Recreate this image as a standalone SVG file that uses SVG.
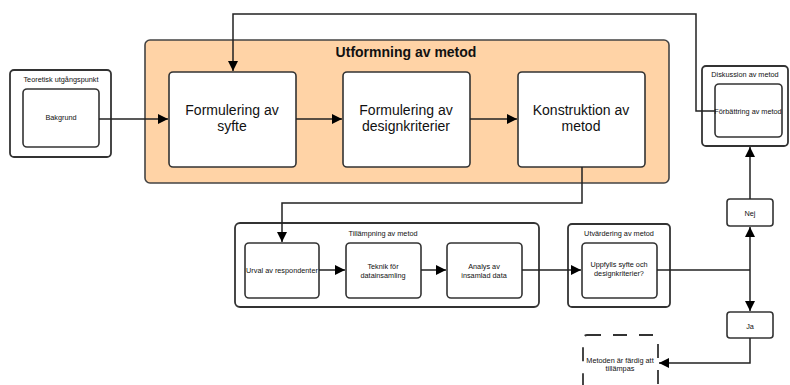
<svg xmlns="http://www.w3.org/2000/svg" width="790" height="385" viewBox="0 0 790 385">
<defs>
<marker id="ah" viewBox="0 0 10 10" refX="10" refY="5" markerWidth="10" markerHeight="10" markerUnits="userSpaceOnUse" orient="auto">
<path d="M0,0 L10,5 L0,10 z" fill="#000"/>
</marker>
<style>
.grp{fill:#fff;stroke:#333;stroke-width:1.8}
.box{fill:#fff;stroke:#333;stroke-width:1.6}
.dash{fill:#fff;stroke:#333;stroke-width:1.8;stroke-dasharray:14 12}
.big{font-family:"Liberation Sans",Arial,sans-serif;font-size:14px;fill:#111;text-anchor:middle}
.ttl{font-family:"Liberation Sans",Arial,sans-serif;font-size:14px;font-weight:bold;fill:#111;text-anchor:middle}
.sm{font-family:"Liberation Sans",Arial,sans-serif;font-size:7.3px;fill:#111;text-anchor:middle}
.ln{fill:none;stroke:#222;stroke-width:1.5}
.la{fill:none;stroke:#222;stroke-width:1.5;marker-end:url(#ah)}
</style>
</defs>
<g id="utformning">
<rect x="145" y="40" width="524" height="143" rx="5" fill="#ffd3a6" stroke="#444" stroke-width="1.6"/>
<text class="ttl" x="406" y="57">Utformning av metod</text>
</g>
<g id="syfte">
<rect class="box" x="169" y="72" width="127" height="95" rx="4"/>
<text class="big" x="232" y="114.5">Formulering av</text>
<text class="big" x="232" y="130.5">syfte</text>
</g>
<g id="designkriterier">
<rect class="box" x="343" y="72" width="127" height="95" rx="4"/>
<text class="big" x="406" y="114.5">Formulering av</text>
<text class="big" x="406" y="130.5">designkriterier</text>
</g>
<g id="konstruktion">
<rect class="box" x="518" y="72" width="127" height="95" rx="4"/>
<text class="big" x="581" y="114.5">Konstruktion av</text>
<text class="big" x="581" y="130.5">metod</text>
</g>
<g id="teoretisk">
<rect class="grp" x="10" y="70" width="101" height="87" rx="4"/>
<text class="sm" x="61" y="81.5">Teoretisk utgångspunkt</text>
</g>
<g id="bakgrund">
<rect class="box" x="23" y="89" width="76" height="58" rx="4"/>
<text class="sm" x="61" y="120">Bakgrund</text>
</g>
<g id="diskussion">
<rect class="grp" x="702" y="66" width="86" height="80" rx="4"/>
<text class="sm" x="745" y="76.5">Diskussion av metod</text>
</g>
<g id="forbattring">
<rect class="box" x="715" y="84" width="67" height="53" rx="4"/>
<text class="sm" x="748" y="113.5">Förbättring av metod</text>
</g>
<g id="tillampning">
<rect class="grp" x="235" y="223" width="304" height="84" rx="5"/>
<text class="sm" x="383" y="235.5">Tillämpning av metod</text>
</g>
<g id="urval">
<rect class="box" x="245" y="243" width="74" height="55" rx="4"/>
<text class="sm" x="282" y="272.5">Urval av respondenter</text>
</g>
<g id="teknik">
<rect class="box" x="346" y="243" width="75" height="55" rx="4"/>
<text class="sm" x="383" y="269">Teknik för</text>
<text class="sm" x="383" y="278">datainsamling</text>
</g>
<g id="analys">
<rect class="box" x="447" y="243" width="75" height="55" rx="4"/>
<text class="sm" x="484" y="269">Analys av</text>
<text class="sm" x="484" y="278">insamlad data</text>
</g>
<g id="utvardering">
<rect class="grp" x="568" y="224" width="102" height="83" rx="4"/>
<text class="sm" x="619" y="235.5">Utvärdering av metod</text>
</g>
<g id="uppfylls">
<rect class="box" x="582" y="243" width="75" height="55" rx="4"/>
<text class="sm" x="619" y="267">Uppfylls syfte och</text>
<text class="sm" x="619" y="275.5">designkriterier?</text>
</g>
<g id="nej">
<rect class="box" x="727" y="199" width="46" height="27" rx="3"/>
<text class="sm" x="750" y="215.5">Nej</text>
</g>
<g id="ja">
<rect class="box" x="727" y="312" width="46" height="26" rx="3"/>
<text class="sm" x="750" y="328.5">Ja</text>
</g>
<g id="metoden">
<rect class="dash" x="583" y="335" width="75" height="60" rx="4"/>
<text class="sm" x="620" y="362.5">Metoden är färdig att</text>
<text class="sm" x="620" y="371">tillämpas</text>
</g>
<g id="connectors">
<path class="la" d="M99,119 H168"/>
<path class="la" d="M296,119 H342"/>
<path class="la" d="M470,119 H517"/>
<path class="la" d="M582,167 V203 H282 V242"/>
<path class="la" d="M319,270 H345"/>
<path class="la" d="M421,270 H446"/>
<path class="la" d="M522,270 H581"/>
<path class="ln" d="M657,270 H750"/>
<path class="la" d="M750,270 V227"/>
<path class="la" d="M750,270 V311"/>
<path class="la" d="M750,199 V147"/>
<path class="la" d="M750,338 V363 H659"/>
<path class="la" d="M715,111 H696 V14 H233 V71"/>
</g>
</svg>
